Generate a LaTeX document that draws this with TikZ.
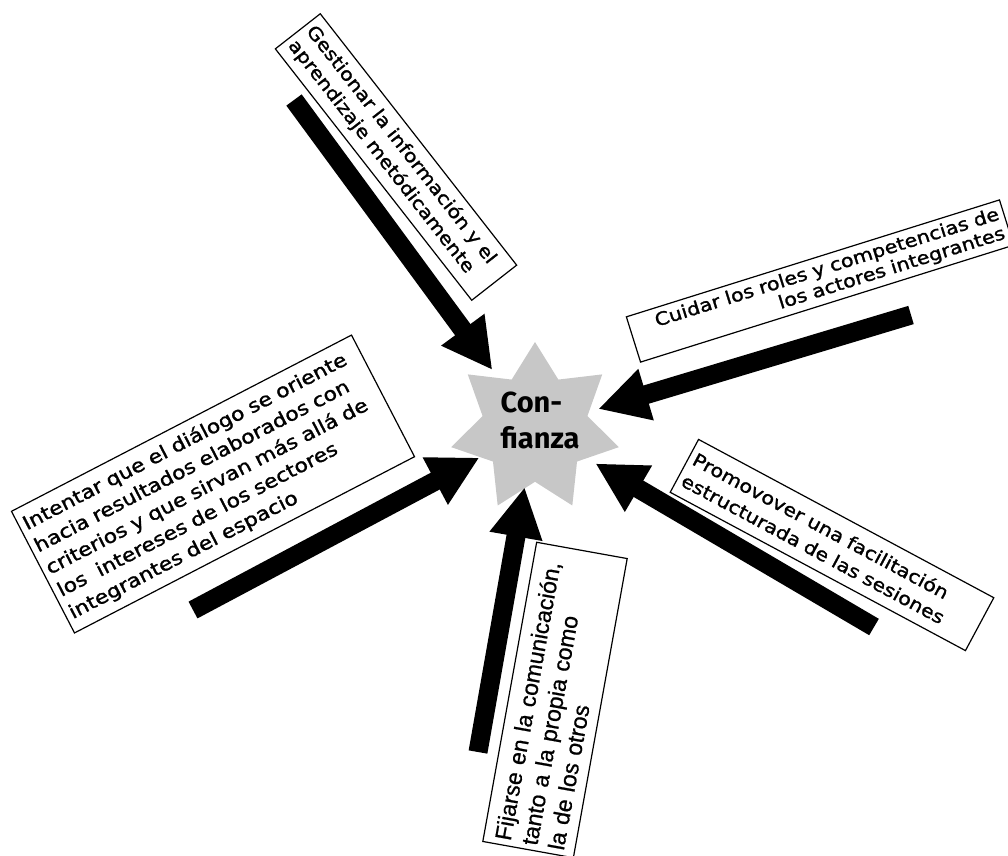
\documentclass[tikz,border=0pt]{standalone}
\usepackage{fontspec}
\setmainfont[FakeStretch=1.15,FakeBold=1.4]{DejaVu Sans}
\newfontfamily\arialfont[FakeBold=0.8]{Liberation Sans}
\newfontfamily\starfont{Fira Sans}
\usetikzlibrary{shapes.geometric,arrows.meta}

\tikzset{
  textbox/.style={draw,line width=1.2pt,inner sep=5pt,align=left},
  bigarrow/.style={line width=19pt,-{Triangle[length=50pt 0 0,width=50pt 0 0]}}
}

\begin{document}
\begin{tikzpicture}[x=1pt,y=-1pt]
  \useasboundingbox (0,0) rectangle (1008,855);

  % star in the middle
  \node[star,star points=7,star point ratio=1.6,minimum size=172pt,inner sep=0pt,fill=black!22] (star) at (535,428) {};
  \node[font=\starfont\bfseries\fontsize{29}{36}\selectfont,align=left] (conf) at (540,420) {Con-\\fianza};

  % tails of the arrows
  \coordinate (tgest) at (294,100);
  \coordinate (tcuid) at (911,315);
  \coordinate (tinte) at (193,610);
  \coordinate (tfija) at (478,752);
  \coordinate (tprom) at (874,627);

  \draw[bigarrow,shorten >=72pt] (tgest) -- (star.center);
  \draw[bigarrow,shorten >=66pt] (tcuid) -- (star.center);
  \draw[bigarrow,shorten >=63pt] (tinte) -- (star.center);
  \draw[bigarrow,shorten >=60pt] (tfija) -- (star.center);
  \draw[bigarrow,shorten >=70pt] (tprom) -- (star.center);

  % boxes
  \node[textbox,rotate=-52,text width=309pt,minimum height=57pt,font=\fontsize{18}{23}\selectfont] (gest) at (396,157)
    {Gestionar la información y el\\aprendizaje metódicamente};
  \node[textbox,rotate=17.4,text width=381pt,minimum height=46pt,align=right,font=\fontsize{18}{20}\selectfont] (cuid) at (820,281)
    {Cuidar los roles y competencias de\\los actores integrantes};
  \node[textbox,rotate=27.4,text width=373pt,minimum height=137pt,font=\fontsize{19}{25}\selectfont] (inte) at (213,484)
    {Intentar que el diálogo se oriente\\hacia resultados elaborados con\\criterios y que sirvan más allá de\\los\ \ intereses de los sectores\\integrantes del espacio};
  \node[textbox,rotate=-28.2,text width=325pt,minimum height=60pt,font=\fontsize{18}{24}\selectfont] (prom) at (832,545)
    {Promovover una facilitación\\estructurada de las sesiones};
  \node[textbox,rotate=79.8,text width=294pt,minimum height=92pt,font=\arialfont\fontsize{23}{27}\selectfont] (fija) at (555,700)
    {Fijarse en la comunicación,\\tanto a la propia como\\la de los otros};
\end{tikzpicture}
\end{document}
